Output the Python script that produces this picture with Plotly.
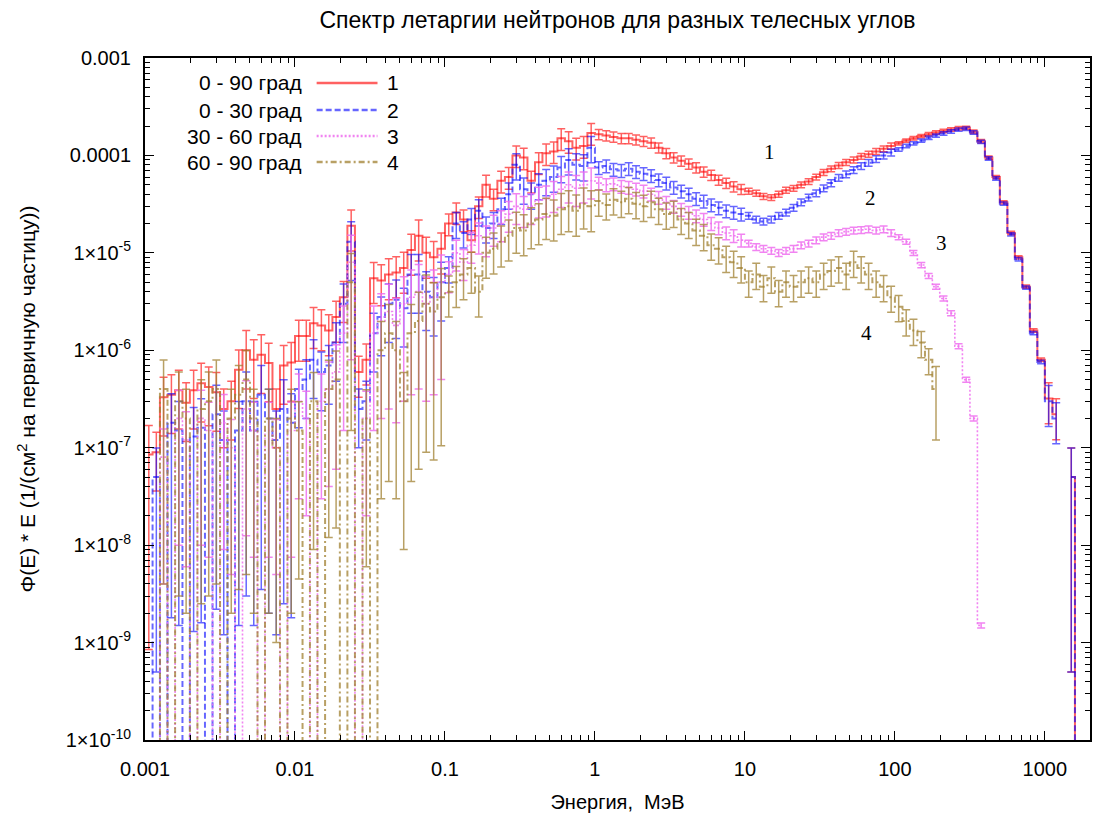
import plotly.graph_objects as go

# ---------------- data ----------------
# energy bin centres: 20 log-bins per decade
MANTISSA = [1.06, 1.19, 1.33, 1.50, 1.68, 1.88, 2.11, 2.37, 2.66, 2.99,
            3.35, 3.76, 4.22, 4.73, 5.31, 5.96, 6.68, 7.50, 8.41, 9.44]
DECADES = [1e-3, 1e-2, 1e-1, 1.0, 10.0, 100.0, 1000.0]
ENERGY = [m * d for d in DECADES for m in MANTISSA][:125]

# 0 = empty bin (drops below axis), None = not drawn
S1_0_90 = [
    8.5e-8, 9e-8, 3.3e-7, 3.5e-7, 3.9e-7, 2.9e-7, 3.9e-7, 4.6e-7, 4.2e-7, 3.7e-7,
    2.5e-7, 3e-7, 6.3e-7, 1.0e-6, 8e-7, 9e-7, 7.4e-7, 2.5e-7, 7e-7, 7.5e-7,
    1.4e-6, 1.4e-6, 1.9e-6, 1.8e-6, 1.6e-6, 2.2e-6, 3.5e-6, 1.9e-5, 6e-7, 8e-7,
    5.5e-6, 5.2e-6, 6e-6, 6.3e-6, 7e-6, 1.07e-5, 1.5e-5, 1.0e-5, 9e-6, 1.1e-5,
    2e-5, 2.6e-5, 2.2e-5, 1.35e-5, 3e-5, 5e-5, 3.6e-5, 5.5e-5, 6e-5, 1.0e-4,
    9.5e-5, 5.5e-5, 8.5e-5, 1.05e-4, 1.1e-4, 1.5e-4, 1.4e-4, 1.2e-4, 1.25e-4, 1.7e-4,
    1.65e-4, 1.6e-4, 1.55e-4, 1.5e-4, 1.5e-4, 1.45e-4, 1.4e-4, 1.35e-4, 1.2e-4, 1.05e-4,
    9.5e-5, 8.8e-5, 8.2e-5, 7.5e-5, 6.8e-5, 6.3e-5, 5.6e-5, 5.2e-5, 4.8e-5, 4.5e-5,
    4.3e-5, 4.1e-5, 3.8e-5, 3.7e-5, 4.0e-5, 4.4e-5, 4.6e-5, 5.0e-5, 5.4e-5, 6.0e-5,
    6.7e-5, 7.3e-5, 7.9e-5, 8.5e-5, 9.0e-5, 9.8e-5, 1.03e-4, 1.1e-4, 1.17e-4, 1.25e-4,
    1.33e-4, 1.42e-4, 1.5e-4, 1.58e-4, 1.65e-4, 1.72e-4, 1.78e-4, 1.85e-4, 1.9e-4, 1.92e-4,
    1.75e-4, 1.4e-4, 9.5e-5, 6.0e-5, 3.3e-5, 1.6e-5, 9.0e-6, 4.5e-6, 1.6e-6, 8.0e-7,
    3.2e-7, 2.2e-7, None, 5e-8, 0,
]
S2_0_30 = [
    0, 5e-8, 0, 1.8e-7, 1.5e-7, 0, 1.3e-7, 1.6e-7, 0, 2.2e-7,
    1.2e-7, 0, 1.5e-7, 3e-7, 1.5e-7, 3.5e-7, 2e-7, 1.2e-7, 2.5e-7, 1.8e-7,
    4e-7, 5e-7, 8e-7, 6e-7, 7e-7, 1.2e-6, 3e-6, 1.3e-5, 2.5e-7, 3e-7,
    1.5e-6, 2.2e-6, 3e-6, 3.3e-6, 2.7e-6, 6e-6, 6e-6, 4e-6, 3.5e-6, 5e-6,
    7e-6, 2e-5, 1.6e-5, 2.2e-5, 2.7e-5, 1.8e-5, 2e-5, 2.8e-5, 4e-5, 8e-5,
    4.5e-5, 4e-5, 5e-5, 5.5e-5, 6e-5, 7.5e-5, 9e-5, 8e-5, 7.8e-5, 1.2e-4,
    7.5e-5, 7.8e-5, 7.2e-5, 7.0e-5, 7.3e-5, 6.8e-5, 6.5e-5, 6.2e-5, 5.6e-5, 5.2e-5,
    4.7e-5, 4.3e-5, 4.0e-5, 3.6e-5, 3.4e-5, 3.1e-5, 2.9e-5, 2.7e-5, 2.6e-5, 2.5e-5,
    2.4e-5, 2.2e-5, 2.1e-5, 2.2e-5, 2.4e-5, 2.6e-5, 2.9e-5, 3.3e-5, 3.7e-5, 4.1e-5,
    4.6e-5, 5.2e-5, 5.9e-5, 6.4e-5, 7.1e-5, 7.8e-5, 8.4e-5, 9.2e-5, 1.0e-4, 1.07e-4,
    1.15e-4, 1.25e-4, 1.33e-4, 1.42e-4, 1.52e-4, 1.6e-4, 1.68e-4, 1.76e-4, 1.84e-4, 1.88e-4,
    1.72e-4, 1.38e-4, 9.3e-5, 5.8e-5, 3.2e-5, 1.55e-5, 8.6e-6, 4.4e-6, 1.5e-6, 7.6e-7,
    3.0e-7, 2.0e-7, None, 5e-8, 0,
]
S3_30_60 = [
    0, 0, 8e-8, 0, 2e-7, 1.2e-7, 0, 2e-7, 1.5e-7, 0,
    1.8e-7, 1e-7, 0, 2.5e-7, 1.5e-7, 0, 1.5e-7, 1e-7, 0, 1.5e-7,
    3e-7, 2e-7, 0, 3e-7, 4e-7, 6e-7, 1.5e-6, 8e-6, 0, 2e-7,
    1.5e-6, 2e-6, 2.5e-6, 1.8e-6, 3e-6, 3.5e-6, 4e-6, 3e-6, 3.5e-6, 5e-6,
    6e-6, 1e-5, 8e-6, 1.2e-5, 1.5e-5, 1.4e-5, 1.8e-5, 2e-5, 2.5e-5, 3e-5,
    2.8e-5, 3e-5, 3.5e-5, 3.6e-5, 4e-5, 4.5e-5, 5e-5, 4.6e-5, 5e-5, 5.5e-5,
    5.2e-5, 5e-5, 5.1e-5, 4.8e-5, 4.7e-5, 4.5e-5, 4.3e-5, 4e-5, 3.7e-5, 3.3e-5,
    3e-5, 2.8e-5, 2.6e-5, 2.4e-5, 2.2e-5, 2e-5, 1.8e-5, 1.6e-5, 1.5e-5, 1.35e-5,
    1.25e-5, 1.15e-5, 1.1e-5, 1.05e-5, 1.0e-5, 1.05e-5, 1.1e-5, 1.2e-5, 1.25e-5, 1.35e-5,
    1.45e-5, 1.5e-5, 1.6e-5, 1.65e-5, 1.7e-5, 1.72e-5, 1.75e-5, 1.7e-5, 1.75e-5, 1.6e-5,
    1.45e-5, 1.3e-5, 1e-5, 7.5e-6, 5.8e-6, 4.5e-6, 3.4e-6, 2.4e-6, 1.1e-6, 5e-7,
    2e-7, 1.5e-9, None, None, None, None, None, None, None, None,
    None, None, None, None, None,
]
S4_60_90 = [
    0, 0, 4e-7, 0, 3e-7, 2e-7, 0, 2.5e-7, 3e-7, 4e-7,
    0, 2e-7, 3.5e-7, 5e-7, 2e-7, 0, 2e-7, 1e-7, 0, 2e-7,
    1.5e-7, 0, 3e-7, 0, 4e-7, 5e-7, 0, 5e-6, 0, 2e-7,
    0, 1e-6, 1.5e-6, 1e-6, 3e-7, 1.5e-6, 2e-6, 3e-6, 2.5e-6, 3.5e-6,
    4e-6, 5e-6, 6e-6, 7e-6, 4e-6, 1e-5, 1.1e-5, 1.3e-5, 1.5e-5, 1.8e-5,
    1.7e-5, 2e-5, 2.2e-5, 2.5e-5, 2.4e-5, 2.8e-5, 3e-5, 2.7e-5, 3.2e-5, 3e-5,
    3.4e-5, 3.1e-5, 3.5e-5, 3.3e-5, 3.6e-5, 3.2e-5, 3e-5, 3.3e-5, 2.8e-5, 2.5e-5,
    2.6e-5, 2.2e-5, 2e-5, 1.7e-5, 1.5e-5, 1.2e-5, 1.1e-5, 9e-6, 8e-6, 7e-6,
    5e-6, 6e-6, 4.5e-6, 5.5e-6, 4e-6, 5e-6, 4.5e-6, 5e-6, 5.5e-6, 5e-6,
    6e-6, 6.5e-6, 7e-6, 6e-6, 8e-6, 7e-6, 6e-6, 5e-6, 4.5e-6, 3.5e-6,
    2.8e-6, 2e-6, 1.6e-6, 1.2e-6, 8e-7, 4e-7, None, None, None, None,
    None, None, None, None, None, None, None, None, None, None,
    None, None, None, None, None,
]

# relative statistical errors per energy decade (0.001, 0.01, ... 1000 MeV)
S1_REL_ERR = [0.6, 0.45, 0.25, 0.12, 0.07, 0.04, 0.45]
S2_REL_ERR = [0.99, 0.6, 0.3, 0.15, 0.08, 0.04, 0.45]
S3_REL_ERR = [0.95, 0.9, 0.35, 0.15, 0.08, 0.06, 0.5]
S4_REL_ERR = [0.99, 0.97, 0.45, 0.3, 0.3, 0.3, 0.5]
# individual bins with larger errors (bin index -> relative error)
S1_ERR_OVERRIDE = {0: 0.99, 123: 0.99}
S2_ERR_OVERRIDE = {123: 0.99}
S3_ERR_OVERRIDE = {}
S4_ERR_OVERRIDE = {105: 0.7}

SERIES_NAMES = ["0 - 90 град", "0 - 30 град", "30 - 60 град", "60 - 90 град"]
SERIES_TAGS = ["1", "2", "3", "4"]
COLORS = ["rgba(255,0,0,0.62)", "rgba(0,0,255,0.6)", "rgba(238,110,238,0.85)", "rgba(160,128,48,0.75)"]
DASHES = ["solid", "6px,3px", "2px,2px", "6px,3px,2px,3px"]

Y_TICKVALS = [1e-3, 1e-4, 1e-5, 1e-6, 1e-7, 1e-8, 1e-9, 1e-10]
Y_TICKTEXT = ["0.001", "0.0001", "1×10<sup>-5</sup>", "1×10<sup>-6</sup>", "1×10<sup>-7</sup>",
              "1×10<sup>-8</sup>", "1×10<sup>-9</sup>", "1×10<sup>-10</sup>"]
X_TICKVALS = [0.001, 0.01, 0.1, 1, 10, 100, 1000]
X_TICKTEXT = ["0.001", "0.01", "0.1", "1", "10", "100", "1000"]

FLOOR = 1e-14  # plotting value for empty bins (below visible range)
FONT = "Liberation Sans, Arial"

# ---------------- figure ----------------
def prepare(vals, rel, override):
    ys, errs = [], []
    for k, v in enumerate(vals):
        if v is None:
            ys.append(None); errs.append(0)
        elif v == 0:
            ys.append(FLOOR); errs.append(0)
        else:
            r = override.get(k, rel[min(k // 20, len(rel) - 1)])
            ys.append(v); errs.append(v * r)
    return ys, errs

fig = go.Figure()
all_series = [(S1_0_90, S1_REL_ERR, S1_ERR_OVERRIDE), (S2_0_30, S2_REL_ERR, S2_ERR_OVERRIDE),
              (S3_30_60, S3_REL_ERR, S3_ERR_OVERRIDE), (S4_60_90, S4_REL_ERR, S4_ERR_OVERRIDE)]
widths = [2, 2, 1.6, 2]
for i, (vals, rel, ov) in enumerate(all_series):
    ys, errs = prepare(vals, rel, ov)
    fig.add_trace(go.Scatter(
        x=ENERGY, y=ys, mode="lines", name=SERIES_NAMES[i], showlegend=False,
        connectgaps=False,
        line=dict(shape="hvh", color=COLORS[i], width=widths[i], dash=DASHES[i]),
        error_y=dict(type="data", array=errs, visible=True, color=COLORS[i],
                     thickness=1.5, width=4),
    ))

# plot-area geometry in pixels
L, R, T, B = 145, 1092, 58, 740
W, H = 1097, 822
def px(x):
    return (x - L) / (R - L)
def py(y):
    return (B - y) / (B - T)

# custom legend (text, sample line, tag)
leg_y = [83, 110, 136, 162]
for i in range(4):
    fig.add_annotation(x=px(304), y=py(leg_y[i]), xref="paper", yref="paper",
                       text=SERIES_NAMES[i], showarrow=False, xanchor="right", yanchor="middle",
                       font=dict(family=FONT, size=21, color="black"))
    fig.add_shape(type="line", xref="paper", yref="paper",
                  x0=px(317), x1=px(378), y0=py(leg_y[i]), y1=py(leg_y[i]),
                  line=dict(color=COLORS[i], width=2.5, dash=DASHES[i]))
    fig.add_annotation(x=px(386), y=py(leg_y[i]), xref="paper", yref="paper",
                       text=SERIES_TAGS[i], showarrow=False, xanchor="left", yanchor="middle",
                       font=dict(family=FONT, size=21, color="black"))

# curve labels
for t, (lx, ly) in zip(SERIES_TAGS, [(771, 152), (872, 198), (943, 243), (868, 333)]):
    fig.add_annotation(x=px(lx), y=py(ly), xref="paper", yref="paper", text=t,
                       showarrow=False, xanchor="center", yanchor="middle",
                       font=dict(family="Liberation Serif, Times New Roman", size=21, color="black"))

minor_x = [m * d for d in [1e-3, 1e-2, 1e-1, 1, 10, 100, 1000] for m in range(2, 10)]
minor_y = [m * d for d in [1e-10, 1e-9, 1e-8, 1e-7, 1e-6, 1e-5, 1e-4] for m in range(2, 10)]

axis_common = dict(showline=True, linecolor="black", linewidth=2, mirror="allticks",
                   ticks="inside", ticklen=9, tickwidth=1.2, tickcolor="black",
                   showgrid=False, zeroline=False,
                   tickfont=dict(family=FONT, size=20, color="black"))

fig.update_xaxes(type="log", range=[-3, 3.301], tickmode="array",
                 tickvals=X_TICKVALS, ticktext=X_TICKTEXT, ticklabelstandoff=10,
                 minor=dict(ticks="inside", ticklen=5, tickcolor="black", tickwidth=1,
                            tickmode="array", tickvals=minor_x, showgrid=False),
                 title=dict(text="Энергия,  МэВ", standoff=16,
                            font=dict(family=FONT, size=20, color="black")),
                 **axis_common)
fig.update_yaxes(type="log", range=[-10, -3], tickmode="array",
                 tickvals=Y_TICKVALS, ticktext=Y_TICKTEXT, ticklabelstandoff=8,
                 minor=dict(ticks="inside", ticklen=5, tickcolor="black", tickwidth=1,
                            tickmode="array", tickvals=minor_y, showgrid=False),
                 title=dict(text="Φ(E) * E (1/(см<sup>2</sup> на первичную частицу))", standoff=24,
                            font=dict(family=FONT, size=21, color="black")),
                 **axis_common)

fig.update_layout(
    width=W, height=H,
    margin=dict(l=L, r=W - R, t=T, b=H - B),
    paper_bgcolor="white", plot_bgcolor="white",
    title=dict(text="Спектр летаргии нейтронов для разных телесных углов",
               x=0.5, xref="paper", xanchor="center", y=1 - 20 / H, yanchor="middle",
               font=dict(family=FONT, size=23, color="black")),
    showlegend=False,
)

fig.write_html("out.html")
